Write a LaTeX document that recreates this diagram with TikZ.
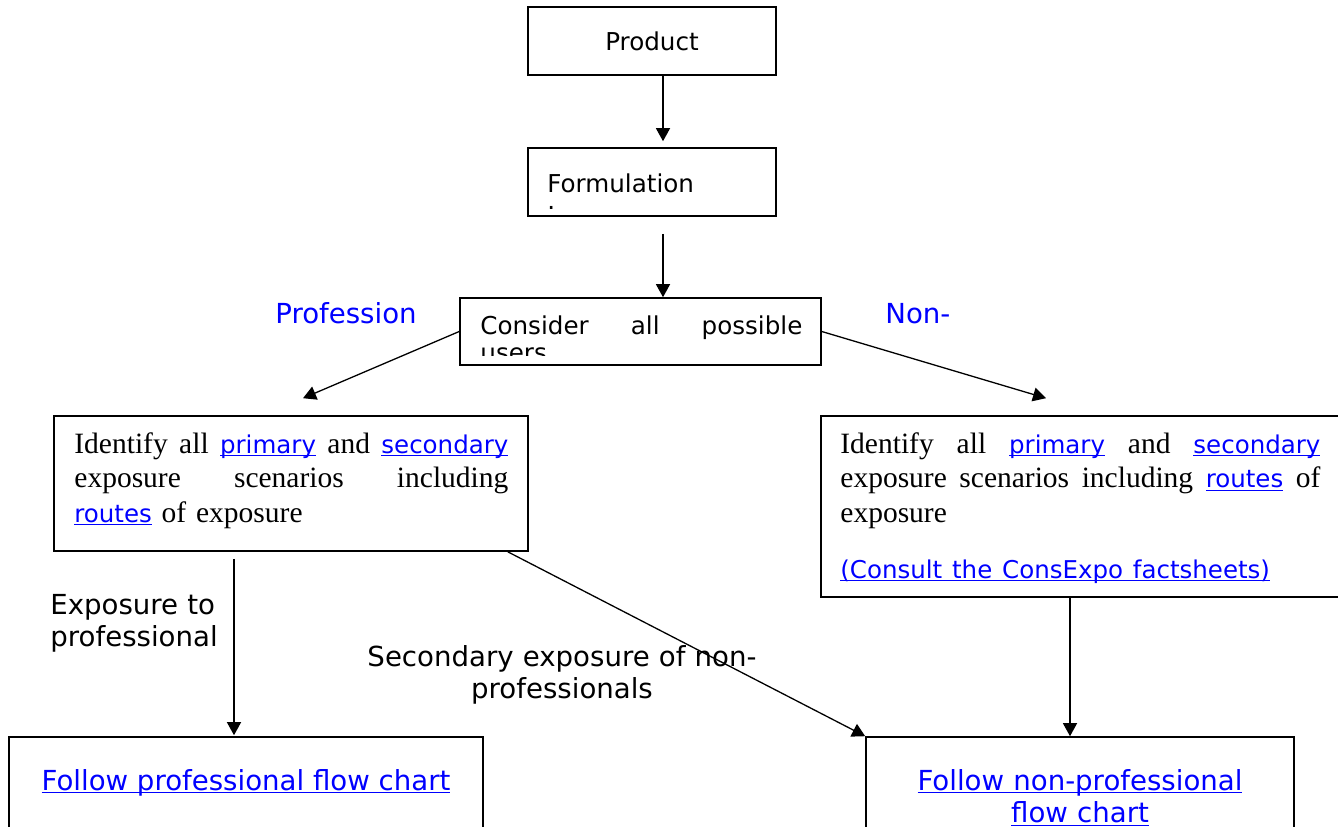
\documentclass[tikz,border=0pt]{standalone}
\usepackage{fontspec}
\setmainfont{Liberation Serif}
\setsansfont{DejaVu Sans}
\usetikzlibrary{arrows.meta,calc}
\definecolor{lnkblue}{RGB}{0,0,255}
\newcommand{\lnk}[1]{\textcolor{lnkblue}{\sffamily\underline{\smash{#1}}}}
\newcommand{\slnk}[1]{{\fontsize{12.25}{17.25}\selectfont\lnk{#1}}}
\begin{document}
\begin{tikzpicture}[x=0.5pt,y=-0.5pt,>={Triangle[length=6.5pt,width=7pt]},
		box/.style={draw,line width=0.8pt,inner sep=0pt},
		conn/.style={->,line width=0.65pt},
		smallsf/.style={inner sep=0pt,font=\sffamily\fontsize{12.3}{13.75}\selectfont},
		bigsf/.style={inner sep=0pt,font=\sffamily\fontsize{13.8}{16.25}\selectfont},
		sertxt/.style={anchor=base west,inner sep=0pt,align=left,font=\rmfamily\fontsize{14.75}{17.25}\selectfont},
		bluetag/.style={bigsf,text=lnkblue}]
			\useasboundingbox (0,0) rectangle (1338,826);
			\clip (0,0) rectangle (1338,826);
			\node[box,smallsf,minimum width=124pt,minimum height=34pt] (prod) at (652,41) {Product};
			\node[box,minimum width=124pt,minimum height=34pt] (form) at (652,182) {};
			\node[smallsf,anchor=base west,text width=110pt,align=left] (formtxt) at (547,192) {Formulation\\[-5.25pt].};
			\node[box,minimum width=180.5pt,minimum height=33.5pt] (cons) at (640.5,331.5) {};
			\begin{scope}
				\clip (cons.north west) rectangle ($(cons.south east)+(0,-10)$);
				\node[smallsf,anchor=base west,text width=161pt,align=left] (constxt) at (480,334) {Consider\hfill all\hfill possible\\users};
			\end{scope}
			\node[bluetag,anchor=base] (prof) at (346,323) {Profession};
			\node[bluetag,anchor=base west] (nonp) at (885,323) {Non-};
			\node[box,minimum width=237pt,minimum height=67.5pt] (lbox) at (291,483.5) {};
			\node[sertxt,text width=217pt] (lboxtxt) at (74,453) {Identify\hfill all\hfill \slnk{primary}\hfill and\hfill \slnk{secondary}\\exposure\hfill scenarios\hfill including\\\slnk{routes} of exposure};
			\node[box,minimum width=260pt,minimum height=90.5pt] (rbox) at (1081,506.5) {};
			\node[sertxt,text width=240pt] (rboxtxt) at (840,453) {Identify\hfill all\hfill \slnk{primary}\hfill and\hfill \slnk{secondary}\\exposure\hfill scenarios\hfill including\hfill \slnk{routes}\hfill of\\exposure\\[10.75pt]\slnk{(Consult the ConsExpo factsheets)}};
			\node[box,minimum width=237pt,minimum height=71.5pt] (bl) at (246,808.5) {};
			\node[bigsf,anchor=base] (bltxt) at (246,790) {\lnk{Follow professional flow chart}};
			\node[box,minimum width=214pt,minimum height=71.5pt] (br) at (1080,808.5) {};
			\node[bigsf,anchor=base,text width=214pt,align=center] (brtxt) at (1080,790) {\lnk{Follow non-professional}\\\lnk{flow chart}};
			\node[bigsf,anchor=base west,text width=120pt,align=left] (expo) at (50,614) {Exposure to\\professional};
			\node[bigsf,anchor=base,text width=215pt,align=center] (secx) at (562,666) {Secondary exposure of non-\\professionals};
			\draw[conn] ($(prod.south)+(11,0)$) -- ($(form.north)+(11,-6)$);
			\draw[conn] ($(form.south)+(11,17)$) -- ($(cons.north)+(22.5,0)$);
			\draw[conn] (cons.west) -- ($(lbox.north)+(12,-17)$);
			\draw[conn] (cons.east) -- ($(rbox.north)+(-35,-17)$);
			\draw[conn] ($(lbox.south)+(-57,7)$) -- ($(bl.north)+(-12,-1)$);
			\draw[conn] ($(lbox.south east)+(-21,0)$) -- (br.north west);
			\draw[conn] ($(rbox.south)+(-11,0)$) -- ($(br.north)+(-10,0)$);
	\end{tikzpicture}
\end{document}
